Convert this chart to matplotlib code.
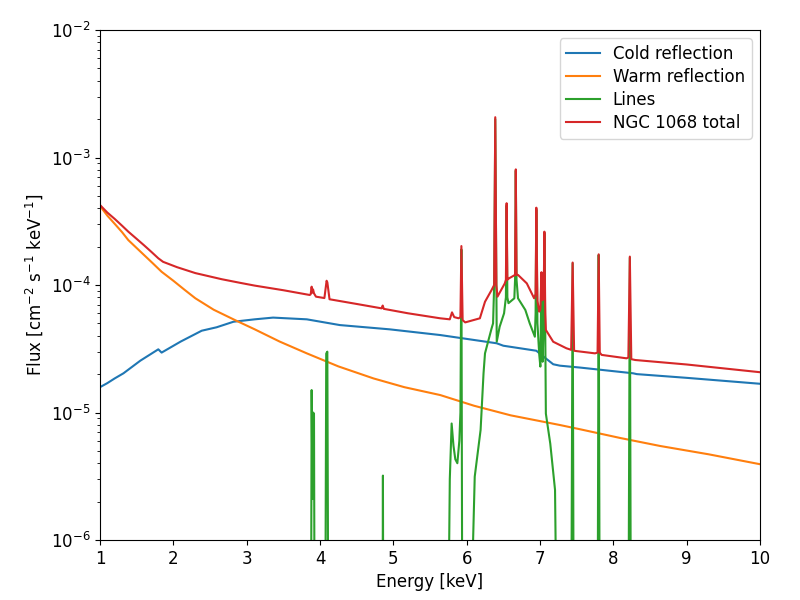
import matplotlib
matplotlib.use('Agg')
import matplotlib.pyplot as plt

plt.rcParams.update({
    'font.size': 12,
    'lines.linewidth': 1.5,
})

# Cold reflection (energy keV, flux)
cold_e = [1.0, 1.1, 1.2, 1.32, 1.55, 1.795, 1.84, 2.1, 2.387, 2.59, 2.82, 3.11, 3.36, 3.82,
          4.27, 4.95, 5.64, 6.41, 6.50, 6.95, 7.05, 7.18, 7.27, 7.55, 8.27, 8.32, 9.0, 10.0]
cold_f = [1.58e-5, 1.7e-5, 1.85e-5, 2.03e-5, 2.55e-5, 3.13e-5, 2.95e-5, 3.6e-5, 4.38e-5,
          4.66e-5, 5.15e-5, 5.38e-5, 5.55e-5, 5.38e-5, 4.85e-5, 4.49e-5, 4.05e-5, 3.49e-5,
          3.34e-5, 3.05e-5, 2.74e-5, 2.39e-5, 2.33e-5, 2.25e-5, 2.03e-5, 2.0e-5, 1.87e-5,
          1.68e-5]

# Warm reflection
warm_e = [1.0, 1.1, 1.2, 1.3, 1.386, 1.5, 1.6, 1.72, 1.84, 2.0, 2.15, 2.30, 2.55, 2.84,
          3.11, 3.45, 3.82, 4.25, 4.73, 5.15, 5.64, 6.1, 6.6, 7.27, 7.55, 8.1, 8.64, 9.3,
          10.0]
warm_f = [4.17e-4, 3.5e-4, 3.02e-4, 2.6e-4, 2.25e-4, 1.95e-4, 1.72e-4, 1.48e-4, 1.27e-4,
          1.08e-4, 9.2e-5, 7.87e-5, 6.4e-5, 5.31e-5, 4.49e-5, 3.6e-5, 2.91e-5, 2.3e-5,
          1.85e-5, 1.58e-5, 1.37e-5, 1.13e-5, 9.5e-6, 7.98e-6, 7.38e-6, 6.3e-6, 5.46e-6,
          4.7e-6, 3.93e-6]

# Lines (values far below the axis are clipped by the y range)
lines_e = [3.86, 3.873, 3.886, 3.897, 3.905, 3.918, 3.932, 3.945,
           4.05, 4.065, 4.085, 4.10, 4.12, 4.135,
           4.84, 4.848, 4.858, 4.868,
           5.72, 5.745, 5.77, 5.795, 5.82, 5.845, 5.873, 5.90, 5.915, 5.928, 5.945, 5.955,
           6.05, 6.07, 6.11, 6.19, 6.23, 6.25, 6.34, 6.36, 6.375, 6.39, 6.405, 6.41, 6.45,
           6.51, 6.535, 6.545, 6.555, 6.57, 6.65, 6.66, 6.67, 6.68, 6.70, 6.80, 6.86, 6.93,
           6.94, 6.95, 6.965, 6.99, 7.005, 7.02, 7.035, 7.05, 7.06, 7.072, 7.08, 7.14,
           7.205, 7.27,
           7.41, 7.425, 7.445, 7.46, 7.475,
           7.77, 7.785, 7.80, 7.815, 7.83,
           8.19, 8.205, 8.225, 8.24, 8.255]
lines_f = [1e-9, 1e-8, 1.5e-5, 2.1e-6, 1.0e-5, 9.8e-6, 1e-8, 1e-9,
           1e-9, 1e-8, 2.9e-5, 3.0e-5, 1e-8, 1e-9,
           1e-9, 1e-8, 3.2e-6, 1e-8,
           1e-9, 1e-7, 3.0e-6, 8.2e-6, 5.5e-6, 4.3e-6, 4.0e-6, 6.0e-6, 1.0e-5, 1.9e-4,
           1e-8, 1e-9,
           1e-9, 4e-7, 3.14e-6, 7.3e-6, 2.03e-5, 2.91e-5, 4.57e-5, 5.0e-5, 1.0e-4, 2.0e-3,
           1.0e-4, 3.59e-5, 4.71e-5, 6.0e-5, 8.0e-5, 4.2e-4, 8.0e-5, 7.2e-5, 7.87e-5, 1.1e-4,
           7.9e-4, 1.1e-4, 7.87e-5, 6.37e-5, 5.0e-5, 3.93e-5, 6.0e-5, 3.9e-4, 5.0e-5, 2.83e-5,
           2.29e-5, 1.2e-4, 2.5e-5, 5.0e-5, 2.55e-4, 4.0e-5, 9.8e-6, 5.7e-6, 2.47e-6, 1e-9,
           1e-9, 1e-7, 1.48e-4, 1e-7, 1e-9,
           1e-9, 1e-7, 1.72e-4, 1e-7, 1e-9,
           1e-9, 1e-7, 1.64e-4, 1e-7, 1e-9]

# NGC 1068 total
total_e = [1.0, 1.1, 1.2, 1.3, 1.386, 1.5, 1.6, 1.7, 1.795, 1.86, 2.05, 2.30, 2.66, 2.91,
           3.11, 3.5, 3.86, 3.873, 3.886, 3.895, 3.905, 3.918, 3.945, 4.06, 4.09, 4.10, 4.13,
           4.5, 4.84, 4.855, 4.87, 5.2, 5.64, 5.77, 5.80, 5.83, 5.89, 5.915, 5.928, 5.945,
           5.98, 6.18, 6.25, 6.34, 6.375, 6.39, 6.405, 6.42, 6.52, 6.535, 6.545, 6.555, 6.58,
           6.66, 6.67, 6.68, 6.70, 6.82, 6.92, 6.94, 6.95, 6.965, 6.99, 7.005, 7.02, 7.035,
           7.05, 7.06, 7.072, 7.08, 7.18, 7.36, 7.425, 7.445, 7.465, 7.50, 7.75, 7.785, 7.80,
           7.815, 7.84, 8.18, 8.205, 8.225, 8.245, 8.30, 9.0, 10.0]
total_f = [4.24e-4, 3.7e-4, 3.3e-4, 2.92e-4, 2.62e-4, 2.3e-4, 2.05e-4, 1.82e-4, 1.62e-4,
           1.52e-4, 1.38e-4, 1.24e-4, 1.11e-4, 1.04e-4, 9.89e-5, 9.1e-5, 8.35e-5, 8.45e-5,
           9.7e-5, 8.7e-5, 9.25e-5, 8.6e-5, 8.1e-5, 7.9e-5, 1.08e-4, 1.05e-4, 7.73e-5,
           7.1e-5, 6.56e-5, 6.9e-5, 6.5e-5, 6.0e-5, 5.48e-5, 5.38e-5, 6.1e-5, 5.6e-5, 5.48e-5,
           5.6e-5, 2.02e-4, 5.3e-5, 5.09e-5, 5.48e-5, 7.39e-5, 9.14e-5, 1.0e-4, 2.07e-3,
           1.0e-4, 8.1e-5, 1.03e-4, 1.1e-4, 4.38e-4, 1.1e-4, 1.13e-4, 1.2e-4, 8.07e-4,
           1.2e-4, 1.2e-4, 1.03e-4, 7.87e-5, 8.5e-5, 4.04e-4, 7.5e-5, 6.18e-5, 6.5e-5,
           1.26e-4, 7.6e-5, 8.0e-5, 2.62e-4, 6.0e-5, 4.44e-5, 3.59e-5, 3.19e-5, 3.1e-5,
           1.5e-4, 3.05e-5, 3.03e-5, 2.91e-5, 2.95e-5, 1.74e-4, 2.95e-5, 2.83e-5, 2.66e-5,
           2.7e-5, 1.67e-4, 2.62e-5, 2.58e-5, 2.38e-5, 2.07e-5]

fig, ax = plt.subplots(figsize=(8, 6), dpi=100)
fig.subplots_adjust(left=0.125, right=0.95, bottom=0.1, top=0.95)

ax.plot(cold_e, cold_f, color='#1f77b4', label='Cold reflection')
ax.plot(warm_e, warm_f, color='#ff7f0e', label='Warm reflection')
ax.plot(lines_e, lines_f, color='#2ca02c', label='Lines')
ax.plot(total_e, total_f, color='#d62728', label='NGC 1068 total')

ax.set_yscale('log')
ax.set_xlim(1, 10)
ax.set_ylim(1e-6, 1e-2)
ax.set_xlabel('Energy [keV]')
ax.set_ylabel(r'Flux [cm$^{-2}$ s$^{-1}$ keV$^{-1}$]')
ax.legend(loc='upper right', labelspacing=0.3)

plt.savefig('out.png', dpi=100)
